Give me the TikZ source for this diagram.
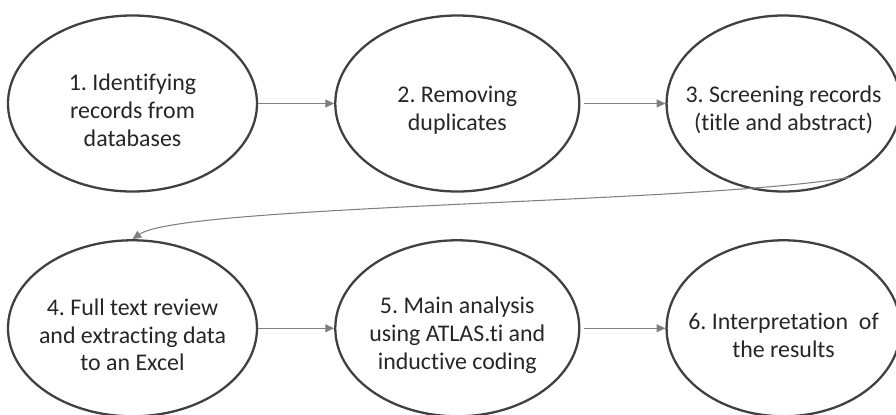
\documentclass[tikz,border=0pt]{standalone}
\usepackage{fontspec}
\setmainfont{Carlito}[Ligatures=NoCommon]
\frenchspacing
\usetikzlibrary{positioning,shapes.geometric,arrows.meta}
\definecolor{rimgray}{HTML}{404040}
\definecolor{linkgray}{HTML}{7F7F7F}
\newcommand{\topgap}{\rule{0pt}{0.6cm}}
\tikzstyle{stage} = [ellipse,
                    minimum width=4.98cm,
                                        minimum height=3.52cm,
                                                            inner xsep=-1.5cm, inner ysep=-1cm,
                                                                                align=center,
                                                                                                    font=\fontsize{13.6}{15.8}\selectfont,
                                                                                                                        text=black!85,
                                                                                                                                            draw=rimgray, line width=1.3pt]
\tikzstyle{link} = [draw=linkgray, line width=0.6pt,
                    -{Triangle[length=5pt,width=4.5pt]}]

\begin{document}
\begin{tikzpicture}[node distance=0.93cm and 1.52cm]
\useasboundingbox (0,0) rectangle (17.92,-8.28);
\node (st1) [stage] at (2.65,-2.07) {\topgap 1. Identifying\\records from\\databases};
\node (st2) [stage, minimum width=4.88cm, right= of st1] {\topgap 2. Removing\\duplicates};
\node (st3) [stage, minimum width=4.68cm, right=1.7cm of st2] {\topgap 3. Screening records\\(title and abstract)};
\node (st4) [stage, below= of st1] {\topgap 4. Full text review\\and extracting data\\to an Excel};
\node (st5) [stage, minimum width=4.88cm, right= of st4] {\topgap 5. Main analysis\\using ATLAS.ti and\\inductive coding};
\node (st6) [stage, minimum width=4.68cm, right=1.7cm of st5] {\topgap 6. Interpretation~~of\\the results};
% connectors
\draw [link] (st1) -- (st2);
\draw [link, shorten <=2pt] (st2) -- (st3);
\draw [link] (st3.-48) .. controls +(190:3) and +(35:1.2) .. (st4.north);
\draw [link] (st4) -- (st5);
\draw [link, shorten <=2pt] (st5) -- (st6);
\end{tikzpicture}
\end{document}
